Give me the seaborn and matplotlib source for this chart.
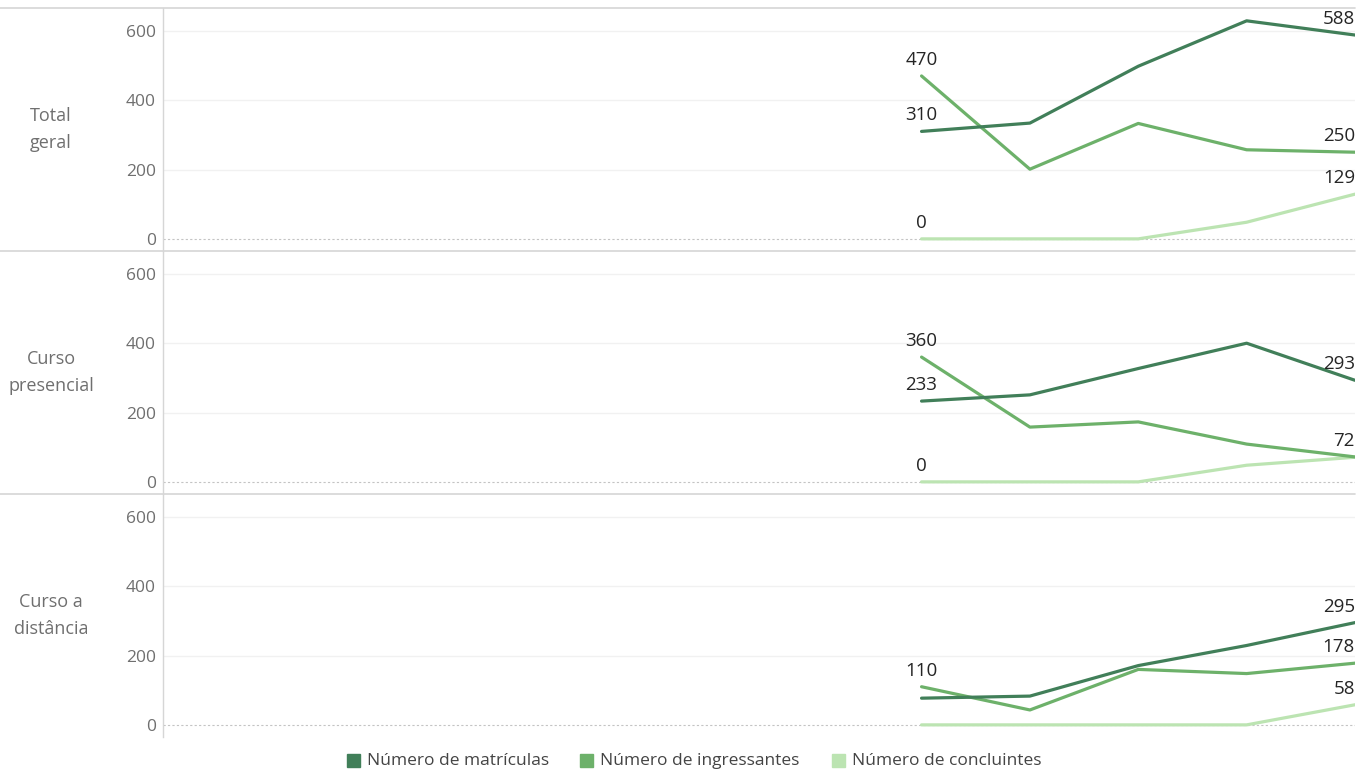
import matplotlib
matplotlib.use("Agg")
import matplotlib.pyplot as plt
from matplotlib.lines import Line2D
from matplotlib.patches import Rectangle
import seaborn as sns
import pandas as pd

sns.set_style("white")
plt.rcParams["font.family"] = ["Open Sans", "DejaVu Sans"]

# Eixo temporal: 12 posições, dados apenas nas 5 últimas
anos_eixo = list(range(2009, 2021))
anos = [2016, 2017, 2018, 2019, 2020]

series = ["Número de matrículas", "Número de ingressantes", "Número de concluintes"]
cores = ["#417F59", "#6DB16A", "#BCE4B2"]

paineis = ["Total\ngeral", "Curso\npresencial", "Curso a\ndistância"]

total_matriculas = [310, 334, 498, 629, 588]
total_ingressantes = [470, 201, 333, 257, 250]
total_concluintes = [0, 0, 0, 48, 129]

presencial_matriculas = [233, 251, 327, 400, 293]
presencial_ingressantes = [360, 158, 173, 109, 72]
presencial_concluintes = [0, 0, 0, 48, 71]

distancia_matriculas = [77, 83, 171, 229, 295]
distancia_ingressantes = [110, 43, 160, 148, 178]
distancia_concluintes = [0, 0, 0, 0, 58]

valores = [
    [total_matriculas, total_ingressantes, total_concluintes],
    [presencial_matriculas, presencial_ingressantes, presencial_concluintes],
    [distancia_matriculas, distancia_ingressantes, distancia_concluintes],
]

# Rótulos exibidos: (série, índice do ponto)
rotulos = [
    [(1, 0), (0, 0), (2, 0), (0, 4), (1, 4), (2, 4)],
    [(1, 0), (0, 0), (2, 0), (0, 4), (1, 4)],
    [(1, 0), (0, 4), (1, 4), (2, 4)],
]

W, H = 1367, 769
fig = plt.figure(figsize=(W / 100, H / 100), dpi=100)

x0, x1 = 163, 1355
tops = [8, 251, 494]
alt = 243
ylim = (-35, 666)
linha_cinza = "#d6d6d6"

for p in range(3):
    top = tops[p]
    ax = fig.add_axes([x0 / W, 1 - (top + alt) / H, (x1 - x0) / W, alt / H])
    df = pd.DataFrame({
        "ano": anos * 3,
        "valor": sum(valores[p], []),
        "serie": [s for s in series for _ in anos],
    })
    for y in (200, 400, 600):
        ax.axhline(y, color="#f1f1f1", lw=1, zorder=0)
    ax.axhline(0, color="#c4c4c4", lw=0.8, ls=(0, (2, 2)), zorder=0)
    sns.lineplot(data=df, x="ano", y="valor", hue="serie", hue_order=series,
                 palette=cores, ax=ax, legend=False, linewidth=2.3,
                 zorder=3)
    # a série de concluintes fica por baixo
    for ln, z in zip(ax.get_lines()[-3:], (4, 3, 2)):
        ln.set_zorder(z)
    ax.set_xlim(anos_eixo[0], anos_eixo[-1])
    ax.set_ylim(*ylim)
    ax.set_yticks([0, 200, 400, 600])
    ax.set_yticklabels(["0", "200", "400", "600"])
    ax.tick_params(axis="y", length=0, pad=5, labelsize=12.5, labelcolor="#6f6f6f")
    ax.set_xticks([])
    ax.set_xlabel("")
    ax.set_ylabel("")
    for s in ("top", "right", "bottom"):
        ax.spines[s].set_visible(False)
    ax.spines["left"].set_color(linha_cinza)
    ax.spines["left"].set_linewidth(1)
    ax.patch.set_alpha(0)

    for si, i in rotulos[p]:
        v = valores[p][si][i]
        ha = "center" if i == 0 else "right"
        ax.annotate(f"{v}", (anos[i], v), xytext=(0, 5), textcoords="offset points",
                    ha=ha, va="bottom", fontsize=13.5, color="#252525", zorder=6)

    # separador horizontal do painel
    fig.add_artist(Line2D([0, x1 / W], [1 - top / H] * 2, color=linha_cinza, lw=1.2))
    fig.text(51 / W, 1 - (top + alt / 2) / H, paineis[p], ha="center", va="center",
             fontsize=13, color="#6f6f6f", linespacing=1.6)

# Legenda inferior
leg_y = 1 - 761 / H
itens = [(347, series[0]), (580, series[1]), (832, series[2])]
for (x, nome), cor in zip(itens, cores):
    fig.add_artist(Rectangle((x / W, leg_y - 6 / H), 13 / W, 13 / H, color=cor,
                             transform=fig.transFigure))
    fig.text((x + 20) / W, leg_y, nome, ha="left", va="center", fontsize=12.5,
             color="#444444")

fig.savefig("out.png", dpi=100)
